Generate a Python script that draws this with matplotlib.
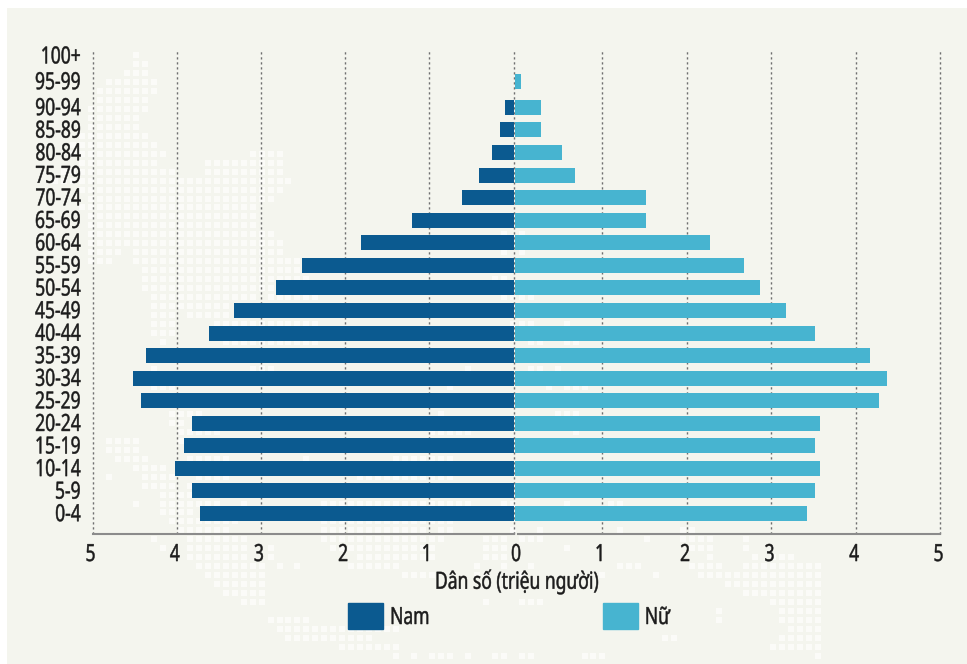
import matplotlib
matplotlib.use("Agg")
import matplotlib.pyplot as plt
from matplotlib.collections import PatchCollection
from matplotlib.patches import Patch, Rectangle
from matplotlib.patheffects import AbstractPathEffect
from matplotlib.transforms import Affine2D, ScaledTranslation

plt.rcParams["font.family"] = ["Noto Sans", "DejaVu Sans"]

WIDTH, HEIGHT = 967, 664
INK = "#1b1b1b"
MALE_COLOR = "#0B5A90"
FEMALE_COLOR = "#47B4D0"
PANEL_COLOR = "#F4F5EE"
DOT_COLOR = "#FBFBF8"
FONT_SIZE = 17
NARROW = 0.74

age_groups = ["0-4", "5-9", "10-14", "15-19", "20-24", "25-29", "30-34", "35-39",
              "40-44", "45-49", "50-54", "55-59", "60-64", "65-69", "70-74",
              "75-79", "80-84", "85-89", "90-94", "95-99", "100+"]
male = [3.73, 3.82, 4.02, 3.92, 3.82, 4.43, 4.52, 4.37, 3.62, 3.32, 2.82,
        2.51, 1.81, 1.21, 0.61, 0.41, 0.26, 0.16, 0.10, 0.0, 0.0]
female = [3.43, 3.52, 3.58, 3.52, 3.58, 4.28, 4.37, 4.17, 3.52, 3.18, 2.87,
          2.68, 2.28, 1.52, 1.52, 0.68, 0.53, 0.28, 0.28, 0.04, 0.0]
x_ticks = [1, 2, 3, 4, 5]
x_title = "Dân số (triệu người)"

# Dotted map backdrop: row number -> runs of grid columns holding a dot.
map_rows = {
    0: [(14, 14)], 1: [(14, 15)], 2: [(13, 15)], 3: [(11, 16)], 4: [(10, 16)],
    5: [(10, 15)], 6: [(9, 15)], 7: [(9, 14)], 8: [(9, 14)], 9: [(8, 15)],
    10: [(7, 16)], 11: [(7, 17), (27, 30)], 12: [(8, 16), (22, 30)],
    13: [(6, 18), (22, 30)], 14: [(5, 31)], 15: [(8, 30)], 16: [(9, 29)],
    17: [(8, 27)], 18: [(9, 27)], 19: [(9, 27)], 20: [(9, 29), (55, 55), (57, 57)],
    21: [(9, 30)], 22: [(9, 12), (14, 30), (55, 55), (57, 57)],
    23: [(9, 11), (14, 32)], 24: [(15, 32)], 25: [(15, 33), (54, 55)],
    26: [(15, 33)], 27: [(16, 27), (29, 34), (55, 58)], 28: [(16, 24)],
    29: [(16, 18), (20, 24)], 30: [(16, 18), (23, 34), (56, 58), (62, 62)],
    31: [(16, 18)], 32: [(17, 17), (24, 34), (58, 59), (62, 63)],
    35: [(16, 16), (27, 29), (51, 51), (58, 59), (61, 61)],
    37: [(16, 18), (49, 49), (60, 60), (62, 64)],
    40: [(18, 21), (48, 48), (61, 63)], 41: [(18, 19)],
    42: [(19, 23), (47, 51), (63, 63)], 43: [(11, 14), (19, 19)], 44: [(11, 14)],
    45: [(12, 15), (20, 24), (33, 33), (43, 49)], 46: [(14, 17)],
    47: [(11, 11), (15, 18), (21, 24), (39, 49)],
    48: [(15, 18), (20, 20), (23, 25), (38, 50)], 49: [(17, 20)],
    50: [(14, 14), (17, 23), (26, 26), (35, 51), (55, 56), (62, 62), (67, 68)],
    51: [(17, 20)], 52: [(18, 25), (35, 49)],
    53: [(19, 24), (35, 46), (48, 49), (56, 56), (59, 59), (68, 68), (75, 76)],
    54: [(16, 16), (20, 26), (35, 48), (53, 55), (57, 59), (71, 71), (75, 78), (82, 82)],
    55: [(17, 17), (20, 26), (29, 29), (36, 47), (53, 55), (62, 62), (76, 78), (82, 82)],
    56: [(20, 26), (29, 29), (39, 47), (53, 55), (78, 78), (83, 83), (85, 87)],
    57: [(21, 28), (30, 30), (32, 32), (38, 43), (52, 52), (55, 55), (58, 58),
         (68, 70), (76, 79), (82, 90)],
    58: [(22, 28), (44, 47), (52, 53), (57, 57), (66, 66), (72, 72), (77, 90)],
    59: [(23, 28), (80, 90)], 60: [(24, 28), (82, 90)],
    61: [(26, 28), (53, 53), (57, 59), (85, 90)], 62: [(79, 79), (86, 90)],
    63: [(29, 33), (79, 79), (86, 90)], 64: [(30, 43), (87, 90)],
    65: [(31, 40), (73, 74), (86, 90)], 66: [(37, 43), (85, 90)],
    67: [(43, 43), (45, 45), (47, 49), (51, 51), (54, 55), (57, 58), (64, 66), (90, 90)],
}


class Condensed(AbstractPathEffect):
    """Squeeze a text's glyphs sideways about a fraction of its own width,
    with a hairline outline to thicken the narrowed strokes."""

    def __init__(self, factor, anchor, outline=0.35):
        self.factor = factor
        self.anchor = anchor
        self.outline = outline

    def draw_path(self, renderer, gc, tpath, affine, rgbFace=None):
        xs = tpath.vertices[:, 0]
        pivot = xs.min() + self.anchor * (xs.max() - xs.min())
        squeeze = Affine2D().translate(-pivot, 0).scale(self.factor, 1).translate(pivot, 0)
        stroked = renderer.new_gc()
        stroked.copy_properties(gc)
        stroked.set_linewidth(self.outline)
        stroked.set_foreground(rgbFace)
        renderer.draw_path(stroked, tpath, squeeze + affine, rgbFace)
        stroked.restore()


def pixel_axes(left, right, top, bottom):
    return fig.add_axes([left / WIDTH, 1 - bottom / HEIGHT,
                         (right - left) / WIDTH, (bottom - top) / HEIGHT])


fig = plt.figure(figsize=(WIDTH / 100, HEIGHT / 100), dpi=100, facecolor="white")

# Backdrop layer in pixel units: tinted panel and the dotted map.
backdrop = pixel_axes(0, WIDTH, 0, HEIGHT)
backdrop.set_xlim(0, WIDTH)
backdrop.set_ylim(HEIGHT, 0)
backdrop.axis("off")
backdrop.add_patch(Rectangle((7, 8), WIDTH - 7, HEIGHT - 8, color=PANEL_COLOR, lw=0))
pitch, dot = 8.97, 6.0
squares = [
    Rectangle((136 + pitch * (col - 14) - dot / 2, 55 + pitch * row - dot / 2), dot, dot)
    for row, runs in map_rows.items()
    for start, end in runs
    for col in range(start, end + 1)
]
backdrop.add_collection(PatchCollection(squares, facecolor=DOT_COLOR, edgecolor="none"))

# Two mirrored half-pyramids sharing the age rows; the oldest two rows sit a little apart.
ax_male = pixel_axes(92.7, 513.6, 51, 534)
ax_female = pixel_axes(515.0, 940.0, 51, 534)
positions = list(range(19)) + [19.15, 20.29]

ax_male.barh(positions, male, height=0.665, color=MALE_COLOR, zorder=3)
ax_male.set_xlim(5, 0)
female_offset = 2.5 / 84.5
ax_female.barh(positions, [v + female_offset if v > 0 else 0 for v in female],
               left=-female_offset, height=0.665, color=FEMALE_COLOR, zorder=3)
ax_female.set_xlim(-female_offset, 5)

for ax in (ax_male, ax_female):
    ax.patch.set_visible(False)
    ax.set_ylim(-0.909, 20.50)
    for side in ("top", "left", "right"):
        ax.spines[side].set_visible(False)
    ax.spines["bottom"].set_color("#8b8b8b")
    ax.spines["bottom"].set_linewidth(1.5)
    ax.grid(axis="x", color="#6f6f6f", linewidth=1.0, linestyle=(0, (1.6, 2.0)), zorder=1)
    ax.tick_params(length=0)

ax_female.spines["bottom"].set_bounds(0, 5)

ax_male.set_xticks([0] + x_ticks)
ax_male.set_xticklabels([""] + [str(t) for t in x_ticks], fontsize=FONT_SIZE, color=INK)
ax_female.set_xticks(x_ticks + [0])
ax_female.set_xticklabels([str(t) for t in x_ticks] + ["0"], fontsize=FONT_SIZE, color=INK)
ax_female.get_xgridlines()[-1].set_visible(False)
for ax in (ax_male, ax_female):
    for line in ax.get_xgridlines():
        line.set_clip_on(False)
ax_male.tick_params(axis="x", pad=6.5)
ax_female.tick_params(axis="x", pad=6.5)
for ax, shift in ((ax_male, -2.0), (ax_female, -1.3)):
    for label in ax.get_xticklabels():
        label.set_transform(label.get_transform()
                            + ScaledTranslation(shift / 100, 0, fig.dpi_scale_trans))
        label.set_path_effects([Condensed(NARROW, 0.5)])

ax_male.set_yticks(positions)
ax_male.set_yticklabels(age_groups, fontsize=FONT_SIZE, color=INK)
ax_male.tick_params(axis="y", pad=8.4)
for label in ax_male.get_yticklabels():
    label.set_transform(label.get_transform()
                        + ScaledTranslation(0, 1.3 / 100, fig.dpi_scale_trans))
    label.set_path_effects([Condensed(NARROW, 1.0)])
ax_female.set_yticks([])

title = fig.text(517 / WIDTH, 1 - 582 / HEIGHT, x_title, fontsize=FONT_SIZE, color=INK,
                 ha="center", va="center")
title.set_path_effects([Condensed(NARROW, 0.5)])

legend = fig.legend(
    handles=[Patch(color=MALE_COLOR, label="Nam"), Patch(color=FEMALE_COLOR, label="Nữ")],
    loc="lower left", bbox_to_anchor=(348 / WIDTH, 1 - 630 / HEIGHT), ncols=2,
    frameon=False, fontsize=FONT_SIZE, labelcolor=INK, borderpad=0, borderaxespad=0,
    handlelength=35 / 23.6, handleheight=30 / 23.6, handletextpad=0.3, columnspacing=6.75,
)
for text in legend.get_texts():
    text.set_path_effects([Condensed(NARROW, 0.0)])

fig.savefig("out.png", dpi=100, facecolor=fig.get_facecolor())
